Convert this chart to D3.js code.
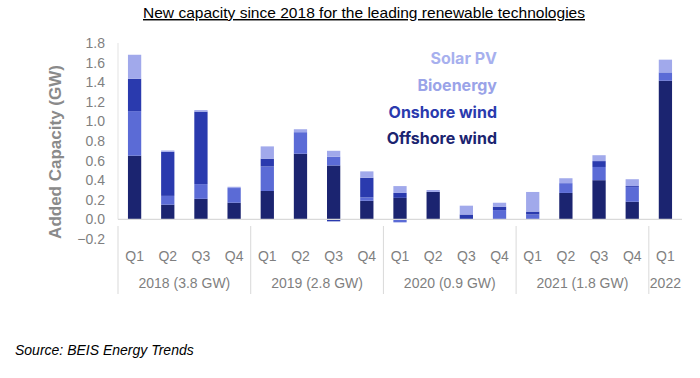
<!DOCTYPE html>
<html><head><meta charset="utf-8">
<script src="https://cdn.jsdelivr.net/npm/d3@7"></script>
<style>body{margin:0;background:#fff}svg{display:block}</style>
</head><body>
<svg id="c" width="700" height="378"></svg>
<script>
const quarters = ["Q1","Q2","Q3","Q4","Q1","Q2","Q3","Q4","Q1","Q2","Q3","Q4","Q1","Q2","Q3","Q4","Q1"];
const years = ["2018 (3.8 GW)","2019 (2.8 GW)","2020 (0.9 GW)","2021 (1.8 GW)","2022"];
const yearCounts = [4,4,4,4,1];
const offshore = [0.65,0.15,0.21,0.17, 0.29,0.67,0.55,0.19, 0.22,0.28,0,0, 0,0.27,0.40,0.18, 1.415];
const bioenergy = [0.455,0.09,0.15,0.15, 0.25,0.22,0.09,0.035, -0.03,0,0,0.095, 0.05,0.10,0.135,0.15, 0.085];
const onshore = [0.33,0.45,0.74,0, 0.08,0,-0.02,0.2, 0.05,0,0.05,0.035, 0.03,0,0.06,0.01, 0];
const solar = [0.245,0.013,0.015,0.013, 0.125,0.03,0.06,0.065, 0.07,0.02,0.09,0.04, 0.2,0.05,0.06,0.07, 0.13];
const yTicks = [-0.2,0,0.2,0.4,0.6,0.8,1.0,1.2,1.4,1.6,1.8];
const seriesNames = ["Offshore wind","Bioenergy","Onshore wind","Solar PV"];
const colors = ["#1b2470","#5b6bd6","#2a3aae","#a1a9eb"];
const legendColors = ["#1b2470","#9aa3e8","#2a3aae","#a7b0ee"];

const svg = d3.select("#c");
const rows = quarters.map((q,i)=>({i, off:offshore[i], bio:bioenergy[i], on:onshore[i], sol:solar[i]}));
const keys = ["off","bio","on","sol"];
const x = d3.scaleBand().domain(d3.range(quarters.length)).range([118,682]).paddingInner(0.6).paddingOuter(0.3);
const y = d3.scaleLinear().domain([-0.2,1.8]).range([239,43]);

const stack = d3.stack().keys(keys).offset(d3.stackOffsetDiverging)(rows);

// title
svg.append("text").attr("x",364).attr("y",18).attr("text-anchor","middle")
  .attr("font-family","Liberation Sans, Arial, sans-serif").attr("font-size",14.5)
  .attr("textLength",442).attr("lengthAdjust","spacingAndGlyphs")
  .attr("text-decoration","underline").attr("fill","#000")
  .text("New capacity since 2018 for the leading renewable technologies");

// y axis line
svg.append("line").attr("x1",118).attr("x2",118).attr("y1",y(1.8)).attr("y2",y(0)).attr("stroke","#e3e3e3");

// bars
svg.append("g").selectAll("g").data(stack).join("g").attr("fill",(d,k)=>colors[k])
  .selectAll("rect").data(d=>d).join("rect")
  .attr("x",d=>x(d.data.i)).attr("width",x.bandwidth())
  .attr("y",d=>y(Math.max(d[0],d[1]))).attr("height",d=>Math.abs(y(d[0])-y(d[1])));

// zero line
svg.append("line").attr("x1",118).attr("x2",682).attr("y1",y(0)).attr("y2",y(0)).attr("stroke","#d9d9d9").attr("stroke-width",1.2);

// y ticks
const yAxis = d3.axisLeft(y).tickValues(yTicks).tickFormat(d3.format(".1f")).tickSize(0).tickPadding(0);
const ya = svg.append("g").attr("transform","translate(105,0)").call(yAxis);
ya.select(".domain").remove();
ya.selectAll("text").attr("font-family","Liberation Sans, Arial, sans-serif").attr("font-size",14).attr("fill","#7f7f7f");

// y label
svg.append("text").attr("transform","translate(61,152) rotate(-90)").attr("text-anchor","middle")
  .attr("font-family","Liberation Sans, Arial, sans-serif").attr("font-size",17).attr("font-weight","bold")
  .attr("fill","#8a8a8a").text("Added Capacity (GW)");

// x quarter labels
const xAxis = d3.axisBottom(x).tickFormat(i=>quarters[i]).tickSize(0).tickPadding(0);
const xa = svg.append("g").attr("transform","translate(0,251)").call(xAxis);
xa.select(".domain").remove();
xa.selectAll("text").attr("dy","0.71em").attr("font-family","Liberation Sans, Arial, sans-serif").attr("font-size",14).attr("fill","#7f7f7f");

// year groups
let start = 0;
const step = x.step();
const x0 = 118;
years.forEach((yr,g)=>{
  const n = yearCounts[g];
  const left = x0 + start*step;
  const right = x0 + (start+n)*step;
  svg.append("line").attr("x1",left).attr("x2",left).attr("y1",226).attr("y2",294).attr("stroke","#d9d9d9");
  svg.append("text").attr("x",(left+right)/2).attr("y",288).attr("text-anchor","middle")
    .attr("font-family","Liberation Sans, Arial, sans-serif").attr("font-size",14).attr("fill","#7f7f7f").text(yr);
  start += n;
});

// legend
const legOrder = [3,1,2,0];
legOrder.forEach((k,j)=>{
  svg.append("text").attr("x",497).attr("y",64+j*26.8).attr("text-anchor","end")
    .attr("font-family","Inter, Liberation Sans, Arial, sans-serif").attr("font-size",16).attr("font-weight","bold")
    .attr("fill",legendColors[k]).text(seriesNames[k]);
});

// source
svg.append("text").attr("x",15).attr("y",355).attr("font-family","Liberation Sans, Arial, sans-serif")
  .attr("font-size",14).attr("font-style","italic").attr("fill","#000").text("Source: BEIS Energy Trends");
</script>
</body></html>
